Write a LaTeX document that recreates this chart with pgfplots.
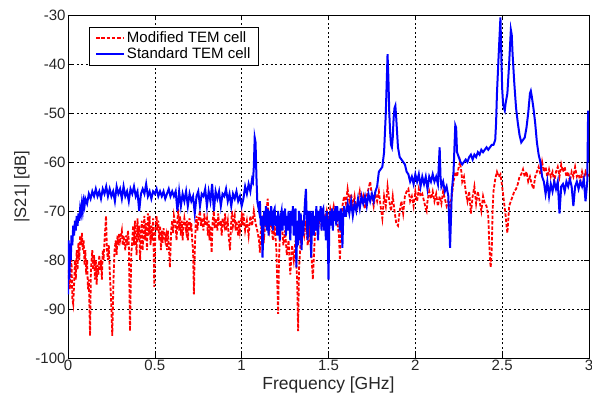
\documentclass[border=0pt]{standalone}
\usepackage{fontspec}
\setmainfont{Liberation Sans}
\usepackage{pgfplots}
\pgfplotsset{compat=1.18}
\definecolor{mblue}{RGB}{0,0,255}
\definecolor{mred}{RGB}{255,0,0}
\begin{document}
\begin{tikzpicture}
\begin{axis}[
  scale only axis, width=521pt, height=343pt,
  xmin=0, xmax=3, ymin=-100, ymax=-30,
  xtick={0,0.5,1,1.5,2,2.5,3}, ytick={-100,-90,-80,-70,-60,-50,-40,-30},
  xticklabels={0,0.5,1,1.5,2,2.5,3},
  /pgf/number format/assume math mode=true,
  tick align=inside, major tick length=5pt,
  tick style={black, line width=0.6pt},
  axis line style={black, line width=0.8pt},
  grid=major,
  major grid style={black, line width=0.6pt, dash pattern=on 2pt off 2.5pt},
  ticklabel style={font=\fontsize{15}{17}\selectfont, text=black!85},
  yticklabel style={xshift=1pt},
  xticklabel style={yshift=1pt},
  xlabel={Frequency [GHz]}, ylabel={|S21| [dB]},
  xlabel style={font=\fontsize{17.5}{19}\selectfont, text=black!85, yshift=1.5pt},
  ylabel style={font=\fontsize{16.5}{18}\selectfont, text=black!85, yshift=-1pt},
  legend style={at={(axis description cs:0.0403,0.965)}, anchor=north west,
    draw=black, font=\fontsize{15}{17}\selectfont, inner xsep=6pt, inner ysep=2.5pt, row sep=0pt,
    /tikz/every even column/.append style={column sep=8pt}},
  legend cell align=left,
  legend image code/.code={\draw[#1, line width=1.8pt] (0pt,0pt) -- (28pt,0pt);},
]
\coordinate (SW) at (rel axis cs:0,0);
\coordinate (NE) at (rel axis cs:1,1);
\addplot[mred, line width=1.8pt, dash pattern=on 3.5pt off 1.8pt] coordinates {
(0.000,-82) (0.010,-86) (0.020,-80) (0.025,-88) (0.030,-89) (0.035,-85) (0.040,-80) (0.045,-84) (0.050,-78) (0.055,-82)
(0.060,-76.5) (0.065,-80) (0.070,-75) (0.075,-77) (0.080,-74.5) (0.085,-78) (0.090,-76) (0.095,-81) (0.100,-78) (0.105,-83)
(0.110,-80) (0.115,-86) (0.120,-84) (0.127,-95.5) (0.132,-82) (0.140,-78) (0.145,-82) (0.150,-79) (0.155,-84) (0.160,-80)
(0.165,-85) (0.170,-81) (0.175,-83) (0.180,-79) (0.185,-82) (0.190,-80) (0.195,-84) (0.200,-78) (0.205,-80) (0.212,-75)
(0.219,-71) (0.224,-78) (0.230,-80) (0.235,-77) (0.240,-82) (0.248,-88) (0.255,-95.5) (0.262,-84) (0.268,-78) (0.275,-76)
(0.280,-79) (0.285,-75) (0.290,-77) (0.295,-74.5) (0.300,-76) (0.310,-74) (0.315,-77) (0.320,-75) (0.330,-78) (0.335,-75)
(0.340,-77) (0.345,-74) (0.350,-76) (0.357,-94.5) (0.364,-79) (0.370,-76) (0.375,-73) (0.380,-77) (0.385,-72) (0.390,-75)
(0.395,-79) (0.400,-71.5) (0.405,-76) (0.410,-73) (0.415,-80) (0.420,-75) (0.425,-72) (0.430,-78) (0.435,-74) (0.440,-71)
(0.445,-76) (0.450,-72.5) (0.455,-78) (0.460,-70.5) (0.465,-75) (0.470,-71) (0.475,-77) (0.480,-73) (0.485,-76) (0.490,-71.5)
(0.497,-85.5) (0.503,-74) (0.510,-71) (0.515,-74) (0.520,-72) (0.525,-76) (0.530,-73) (0.535,-78) (0.540,-74) (0.545,-76.5)
(0.550,-73.5) (0.560,-76) (0.565,-75) (0.570,-78) (0.575,-74) (0.580,-77) (0.587,-81.5) (0.594,-74) (0.600,-72) (0.605,-74.5)
(0.610,-71) (0.620,-73) (0.625,-76) (0.630,-72) (0.635,-69.5) (0.640,-74) (0.645,-71) (0.650,-75) (0.655,-72) (0.660,-76)
(0.665,-73) (0.670,-71.5) (0.680,-74) (0.685,-72) (0.690,-76) (0.695,-73) (0.700,-71.5) (0.705,-74) (0.710,-72.5) (0.715,-76)
(0.720,-78) (0.725,-87) (0.730,-78) (0.735,-73) (0.740,-71) (0.745,-74) (0.750,-72) (0.760,-70) (0.765,-73) (0.770,-71.5)
(0.780,-74) (0.785,-70.5) (0.790,-73) (0.800,-71.5) (0.805,-75) (0.810,-72) (0.815,-76) (0.820,-73) (0.827,-78.5) (0.833,-72)
(0.840,-70) (0.845,-73.5) (0.850,-71.5) (0.860,-74) (0.865,-70.5) (0.870,-73) (0.880,-72) (0.885,-75) (0.890,-71.5) (0.900,-73)
(0.905,-70.5) (0.910,-74) (0.920,-72) (0.925,-75) (0.933,-78) (0.940,-72) (0.945,-70) (0.950,-73) (0.960,-71) (0.965,-74)
(0.970,-72) (0.980,-75) (0.985,-72) (0.990,-74) (1.000,-71) (1.005,-73) (1.010,-70.5) (1.020,-74) (1.030,-72) (1.040,-75)
(1.050,-71) (1.060,-73) (1.070,-70) (1.080,-72.5) (1.090,-74) (1.100,-76) (1.105,-78.5) (1.110,-74) (1.120,-72) (1.130,-75)
(1.140,-71) (1.150,-67.5) (1.155,-72) (1.160,-74) (1.170,-72) (1.180,-76) (1.190,-73) (1.200,-78) (1.210,-91) (1.215,-80)
(1.220,-75) (1.230,-72) (1.240,-77) (1.250,-74) (1.260,-79) (1.270,-76) (1.280,-83) (1.290,-77) (1.300,-80) (1.310,-76)
(1.320,-85) (1.325,-94.5) (1.330,-82) (1.340,-76) (1.350,-73) (1.360,-75) (1.370,-72) (1.380,-77) (1.390,-74) (1.400,-78)
(1.410,-84) (1.420,-76) (1.430,-72) (1.440,-74) (1.450,-71) (1.460,-73) (1.470,-70.5) (1.480,-72) (1.490,-70) (1.500,-72)
(1.510,-69.5) (1.520,-71) (1.530,-69) (1.540,-71) (1.550,-72) (1.560,-75) (1.566,-80) (1.572,-72) (1.580,-69) (1.590,-67)
(1.600,-68.5) (1.610,-65.5) (1.620,-68) (1.630,-66.5) (1.640,-69) (1.650,-67) (1.660,-70) (1.670,-68) (1.680,-66) (1.690,-68.5)
(1.700,-67) (1.710,-69.5) (1.720,-67) (1.730,-65.5) (1.740,-64) (1.750,-67) (1.760,-69) (1.770,-66.5) (1.780,-68) (1.790,-66)
(1.800,-69) (1.810,-71.5) (1.820,-67) (1.830,-69) (1.840,-65) (1.850,-68) (1.860,-70) (1.870,-67) (1.880,-70) (1.890,-72.5)
(1.900,-73) (1.910,-70) (1.920,-68) (1.930,-70.5) (1.940,-67) (1.950,-66) (1.960,-65.5) (1.970,-68) (1.980,-67) (1.990,-69)
(2.000,-66) (2.010,-68) (2.020,-65.5) (2.030,-67) (2.040,-66.5) (2.050,-68) (2.060,-69.5) (2.065,-70) (2.070,-68) (2.080,-66)
(2.090,-67.5) (2.100,-66) (2.110,-68) (2.120,-66.5) (2.130,-69) (2.140,-67) (2.150,-68.5) (2.160,-66) (2.170,-67.5) (2.180,-69)
(2.190,-68) (2.200,-69) (2.210,-67) (2.220,-64) (2.230,-62) (2.240,-63) (2.250,-61) (2.257,-60) (2.265,-62) (2.270,-64)
(2.280,-63) (2.290,-66) (2.300,-68) (2.310,-66) (2.320,-70.5) (2.330,-67) (2.340,-65) (2.350,-68.5) (2.360,-66) (2.370,-68)
(2.380,-70) (2.390,-67) (2.400,-68.5) (2.410,-69) (2.420,-71) (2.425,-76) (2.430,-80) (2.434,-81.5) (2.440,-78) (2.445,-70)
(2.450,-66) (2.460,-63.5) (2.470,-62) (2.480,-63) (2.490,-62.5) (2.500,-65) (2.510,-68) (2.520,-71) (2.525,-73) (2.530,-74.5)
(2.535,-72) (2.540,-69) (2.550,-68) (2.560,-67) (2.570,-66) (2.580,-65.5) (2.590,-64.5) (2.600,-63) (2.610,-62.5) (2.620,-61.5)
(2.630,-63) (2.640,-62) (2.650,-64) (2.660,-63) (2.670,-64.5) (2.680,-65.5) (2.690,-63) (2.700,-62) (2.710,-61) (2.720,-62.5)
(2.730,-60) (2.740,-62) (2.750,-61) (2.760,-63) (2.770,-61.5) (2.780,-63) (2.790,-62) (2.800,-64) (2.810,-62) (2.820,-61)
(2.830,-63) (2.840,-60.5) (2.850,-62) (2.860,-61) (2.870,-63) (2.880,-62) (2.890,-64) (2.900,-62) (2.910,-63) (2.920,-61)
(2.930,-63) (2.940,-62.5) (2.950,-64) (2.960,-62) (2.970,-63.5) (2.980,-62) (2.990,-63) (3.000,-62.5)
};
\addlegendentry{Modified TEM cell\hspace{15pt}}
\addplot[mblue, line width=2pt] coordinates {
(0.000,-87) (0.004,-76) (0.008,-84) (0.012,-78) (0.016,-80) (0.020,-75) (0.025,-77) (0.030,-73) (0.035,-75) (0.040,-72)
(0.045,-74) (0.050,-71) (0.055,-73) (0.060,-70.5) (0.065,-72) (0.070,-69.5) (0.075,-70.5) (0.080,-68.5) (0.085,-70) (0.090,-68)
(0.095,-69) (0.100,-67.5) (0.110,-68.5) (0.120,-66.5) (0.130,-67.5) (0.140,-66) (0.150,-67) (0.160,-65.5) (0.170,-67) (0.180,-66)
(0.190,-67.5) (0.200,-65.5) (0.210,-66.5) (0.220,-65) (0.230,-67) (0.240,-65.5) (0.250,-67) (0.260,-66) (0.270,-68) (0.280,-65)
(0.290,-66.5) (0.300,-65.5) (0.310,-67.5) (0.320,-65) (0.330,-67) (0.340,-66) (0.350,-68) (0.360,-65.5) (0.370,-66.5) (0.380,-65)
(0.390,-67) (0.400,-66) (0.410,-70) (0.420,-66.5) (0.430,-65.5) (0.440,-66.5) (0.450,-64.5) (0.460,-67) (0.470,-66) (0.480,-67.5)
(0.490,-66) (0.500,-66.5) (0.510,-65.5) (0.520,-67) (0.530,-66) (0.540,-67) (0.550,-66) (0.560,-67.5) (0.570,-66.5) (0.580,-65.5)
(0.590,-67) (0.600,-66) (0.610,-67) (0.620,-66) (0.630,-70) (0.640,-66) (0.650,-69) (0.660,-66.5) (0.670,-68) (0.680,-66)
(0.690,-69) (0.700,-66.5) (0.710,-68) (0.720,-67) (0.730,-70.5) (0.740,-67) (0.750,-66) (0.760,-69) (0.770,-66.5) (0.780,-67)
(0.790,-65.5) (0.800,-69) (0.810,-66) (0.820,-68) (0.830,-64.5) (0.840,-70) (0.850,-66) (0.860,-67.5) (0.870,-66) (0.880,-69)
(0.890,-66.5) (0.900,-67) (0.910,-65.5) (0.920,-68) (0.930,-66.5) (0.940,-69) (0.950,-66.5) (0.960,-67.5) (0.970,-66) (0.980,-68)
(0.990,-67) (1.000,-69) (1.010,-67.5) (1.020,-65) (1.030,-66.5) (1.040,-64.5) (1.050,-66) (1.060,-63.5) (1.065,-64) (1.070,-61)
(1.075,-55) (1.080,-56) (1.085,-63) (1.090,-68)
(1.100,-70) (1.105,-68) (1.110,-73) (1.115,-71) (1.120,-79.5) (1.125,-74) (1.130,-70) (1.135,-73) (1.140,-69) (1.145,-74)
(1.150,-69.5) (1.155,-75) (1.160,-70) (1.165,-73) (1.170,-69) (1.175,-72) (1.180,-74) (1.185,-70) (1.190,-69.5) (1.195,-73)
(1.200,-71) (1.205,-75) (1.210,-70) (1.215,-73) (1.220,-76) (1.225,-71) (1.230,-70) (1.235,-74) (1.240,-70) (1.245,-73)
(1.250,-69.5) (1.255,-75) (1.260,-71) (1.265,-74) (1.270,-70) (1.275,-72) (1.280,-76) (1.285,-70) (1.290,-73) (1.295,-69)
(1.300,-75) (1.305,-71) (1.310,-69.5) (1.315,-81.5) (1.320,-72) (1.325,-77) (1.330,-70) (1.335,-76) (1.340,-70.5) (1.345,-78)
(1.350,-72) (1.355,-75) (1.360,-71) (1.365,-68) (1.370,-65.5) (1.375,-72) (1.380,-76) (1.385,-70) (1.390,-73) (1.395,-70)
(1.400,-79.5) (1.405,-73) (1.410,-70) (1.415,-75) (1.420,-71) (1.425,-74) (1.430,-69) (1.435,-73) (1.440,-76) (1.445,-70)
(1.450,-72) (1.455,-69) (1.460,-74) (1.465,-70) (1.470,-69.5) (1.475,-74) (1.480,-71) (1.485,-76) (1.490,-70) (1.495,-73)
(1.500,-84) (1.505,-72) (1.510,-70) (1.515,-73) (1.520,-69.5) (1.525,-74) (1.530,-70) (1.535,-72) (1.540,-69) (1.545,-73)
(1.550,-69) (1.555,-72) (1.560,-70) (1.565,-74) (1.570,-69.5) (1.575,-71) (1.580,-77.5) (1.585,-71) (1.590,-69) (1.595,-71)
(1.600,-71) (1.610,-68.5) (1.620,-70.5) (1.630,-68) (1.640,-71) (1.650,-68.5) (1.660,-70) (1.670,-67.5) (1.680,-69.5) (1.690,-67)
(1.700,-68.5) (1.710,-67) (1.720,-69) (1.730,-66.5) (1.740,-68) (1.750,-66.5) (1.760,-68) (1.770,-66) (1.780,-65) (1.790,-62)
(1.800,-61.5) (1.810,-61) (1.820,-58) (1.830,-50) (1.840,-38) (1.845,-43) (1.850,-50) (1.855,-54) (1.860,-56.5) (1.865,-57)
(1.870,-55) (1.875,-51) (1.880,-49) (1.885,-48.5) (1.890,-51) (1.900,-57) (1.910,-59) (1.920,-59.5) (1.930,-60) (1.940,-60.5)
(1.950,-62) (1.960,-62.5) (1.970,-64) (1.980,-63) (1.990,-64.5) (2.000,-62.5) (2.010,-64) (2.020,-62.5) (2.030,-65) (2.040,-63)
(2.050,-64.5) (2.060,-63) (2.070,-65.5) (2.080,-63) (2.090,-64) (2.100,-62.5) (2.110,-64) (2.120,-63) (2.130,-64.5) (2.140,-57)
(2.145,-63) (2.150,-65) (2.160,-64) (2.170,-66) (2.180,-65) (2.190,-67) (2.200,-77.5) (2.210,-66) (2.220,-62) (2.230,-52.5)
(2.235,-53) (2.240,-58) (2.250,-59) (2.260,-60) (2.270,-60.5) (2.280,-60) (2.290,-59.5) (2.300,-60) (2.310,-59) (2.320,-58.5)
(2.330,-59.5) (2.340,-58.5) (2.350,-59) (2.360,-58) (2.370,-58.5) (2.380,-57.5) (2.390,-58) (2.400,-57.5) (2.410,-57) (2.420,-57.5)
(2.430,-57) (2.440,-56.5) (2.450,-56.5) (2.460,-55.5) (2.465,-52) (2.470,-46) (2.480,-38) (2.490,-30.5) (2.495,-38) (2.500,-45)
(2.505,-48) (2.510,-49) (2.515,-49.5) (2.520,-48) (2.530,-46) (2.540,-40) (2.550,-33) (2.555,-34) (2.560,-38) (2.570,-44)
(2.580,-49) (2.590,-52) (2.600,-54.5) (2.610,-56) (2.620,-55.5) (2.630,-55) (2.640,-53) (2.650,-50) (2.660,-46) (2.665,-45.5)
(2.670,-46.5) (2.680,-49) (2.690,-52) (2.700,-56) (2.710,-58.5) (2.720,-60) (2.730,-63) (2.740,-64) (2.750,-66.5) (2.760,-64)
(2.770,-67) (2.780,-64.5) (2.790,-66) (2.800,-64) (2.810,-65.5) (2.820,-64) (2.830,-70.5) (2.840,-65) (2.850,-64.5) (2.860,-66)
(2.870,-64) (2.880,-65) (2.890,-63.5) (2.900,-65) (2.910,-69) (2.920,-65) (2.930,-64) (2.940,-65.5) (2.950,-64) (2.960,-65)
(2.970,-63.5) (2.980,-68) (2.990,-64) (2.995,-49.5) (3.000,-60)
};
\addlegendentry{Standard TEM cell}
\end{axis}
\pgfresetboundingbox
\path[use as bounding box] ([shift={(-68pt,-41pt)}]SW) rectangle ([shift={(3pt,15pt)}]NE);
\end{tikzpicture}
\end{document}
